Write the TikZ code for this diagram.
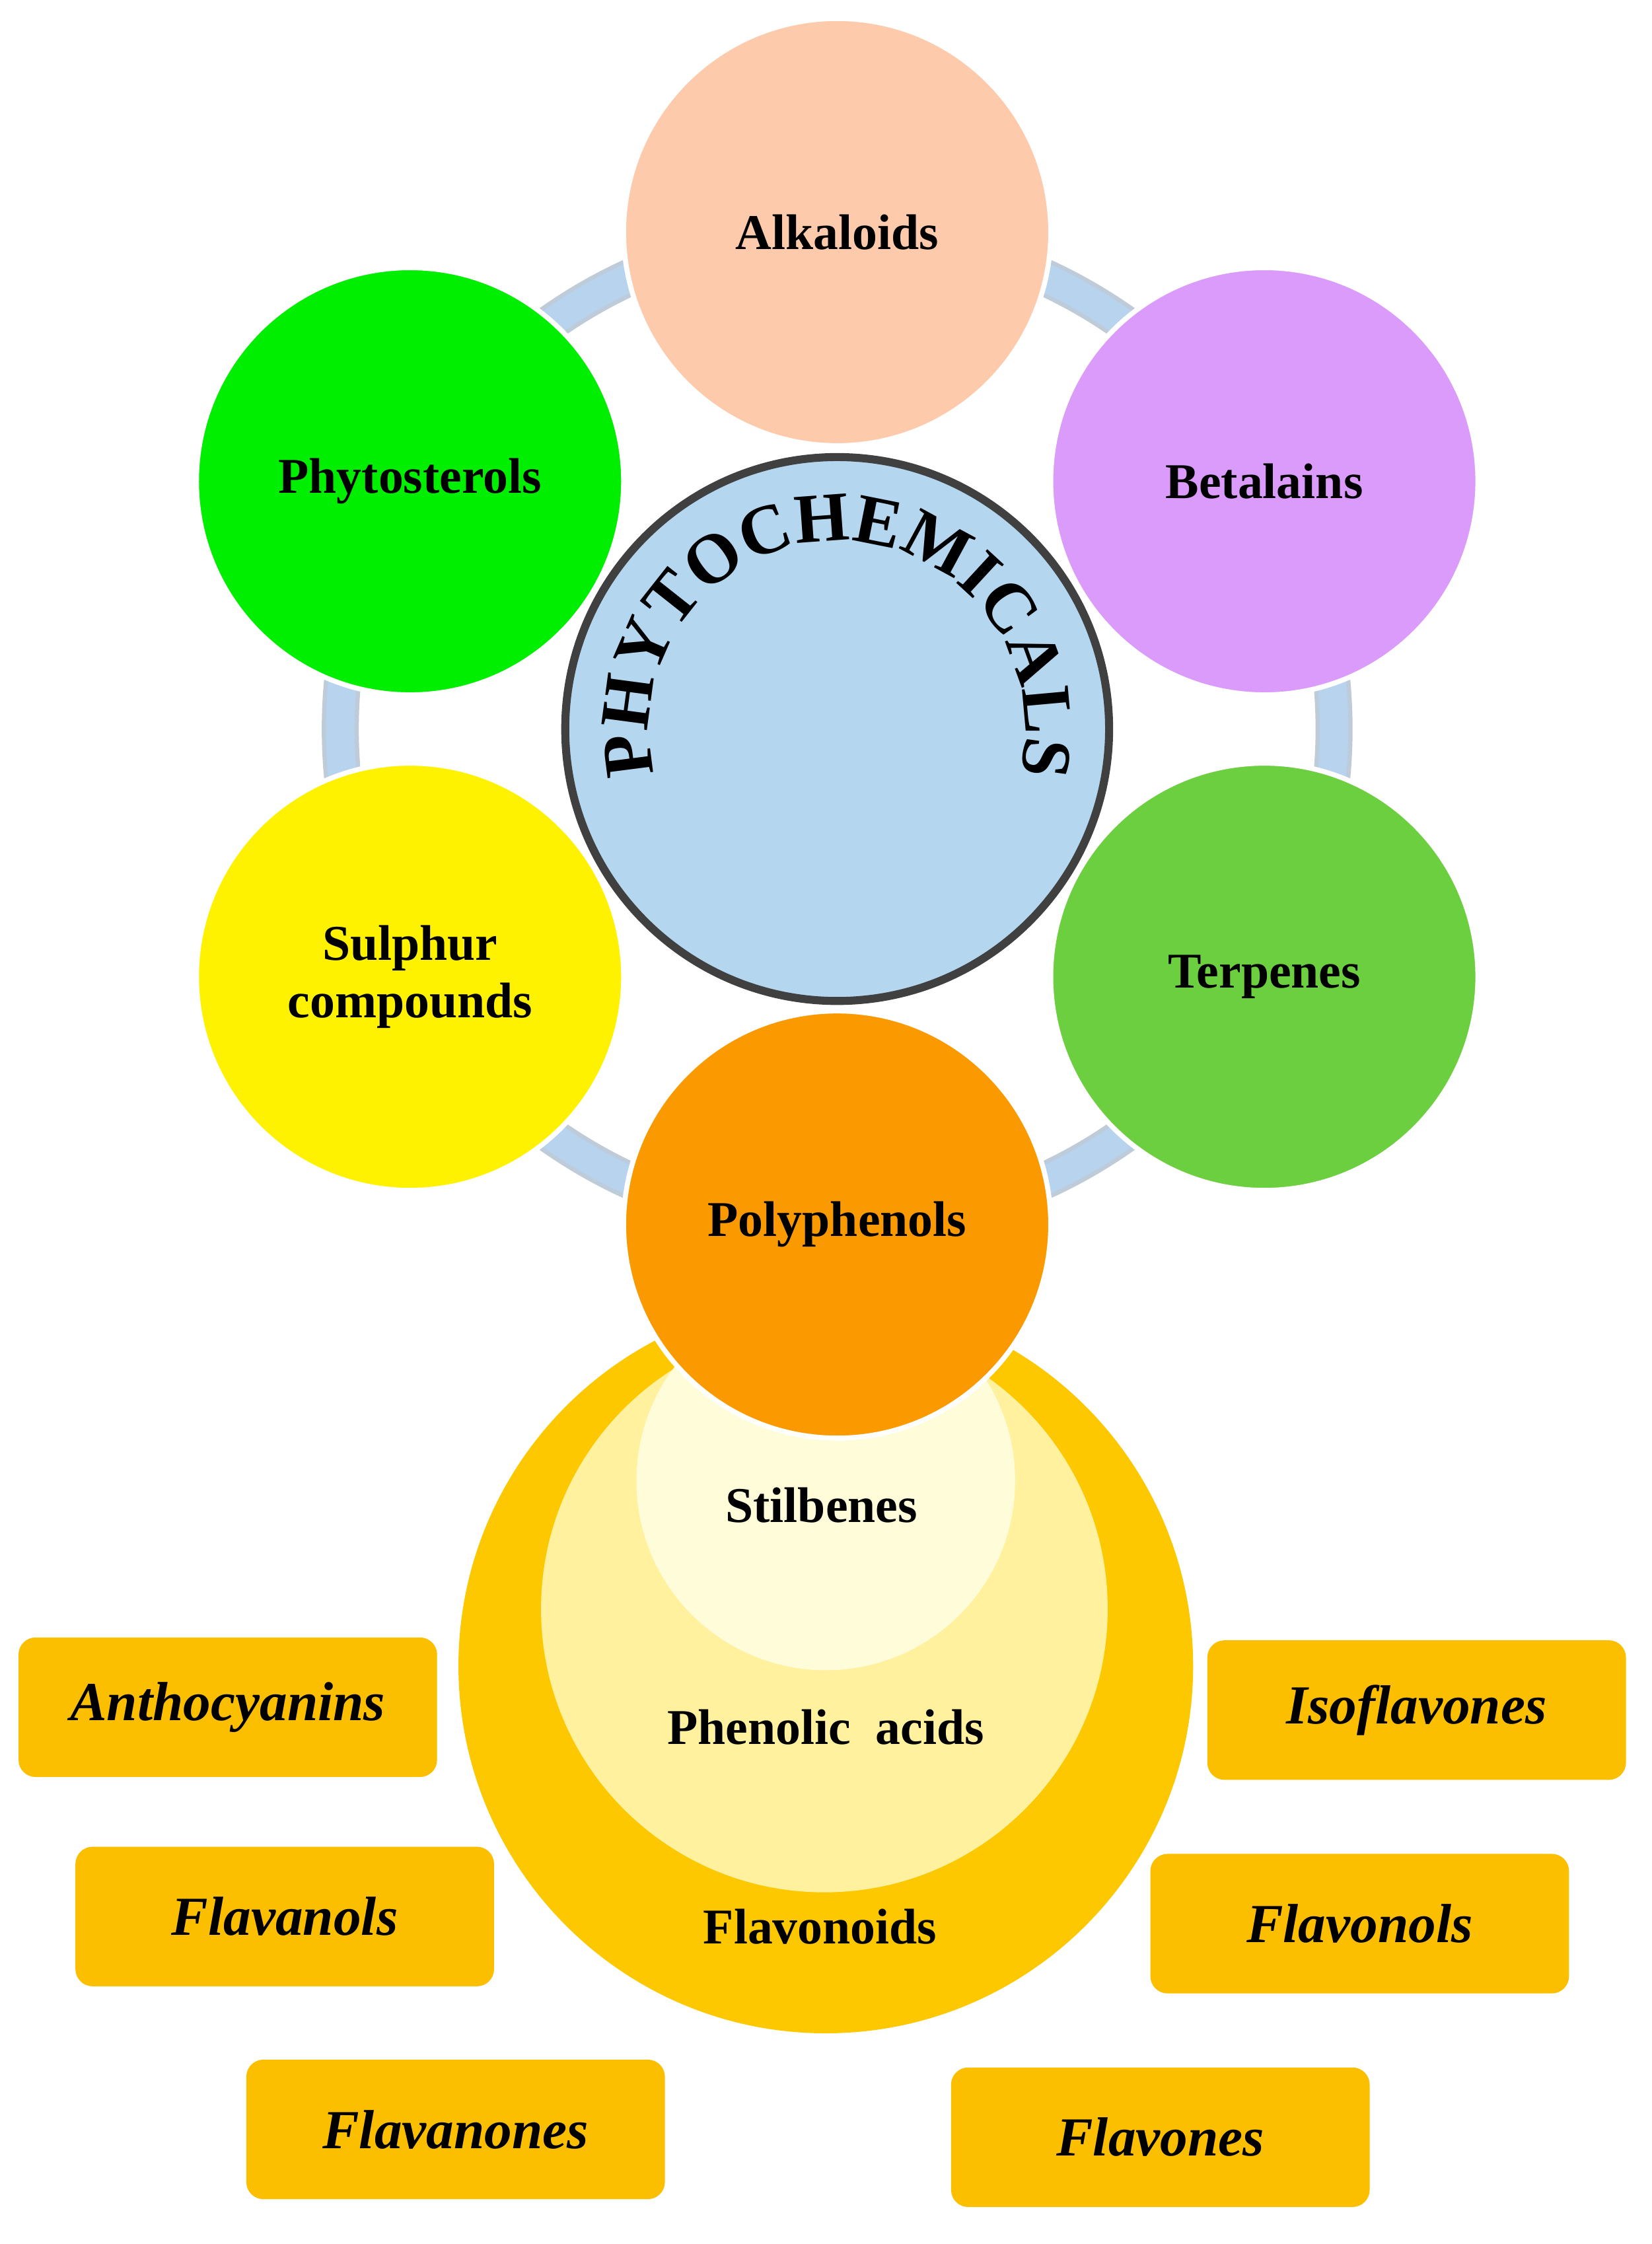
\documentclass[tikz,border=0pt]{standalone}
\usepackage{fontspec}
\setmainfont{Liberation Serif}
\usetikzlibrary{decorations.text}
\definecolor{ringb}{HTML}{B8D3EE}
\definecolor{ctr}{HTML}{B4D6EF}
\definecolor{boxc}{HTML}{FCBF00}
\definecolor{bigy}{HTML}{FDC800}
\definecolor{midy}{HTML}{FFF19E}
\definecolor{iny}{HTML}{FFFCD9}
\tikzset{
 cat/.style={circle,minimum size=3cm,inner sep=0pt,draw=white,line width=1pt,font=\fontsize{10}{11.5}\selectfont\bfseries,align=center},
 sub/.style={font=\fontsize{10}{12}\selectfont\bfseries},
 box/.style={rectangle,rounded corners=0.12cm,fill=boxc,minimum width=2.94cm,minimum height=0.98cm,font=\fontsize{11}{13}\selectfont\bfseries\itshape}
}
\begin{document}
\begin{tikzpicture}
\useasboundingbox (0,0) rectangle (11.6,-15.76);
\coordinate (c) at (5.88,-5.12);
% ring
\draw[ringb!80!black!60,line width=0.26cm] (c) circle[radius=3.49];
\draw[ringb,line width=0.2cm] (c) circle[radius=3.49];
% bottom circles
\node[circle,fill=bigy,minimum size=5.16cm,inner sep=0pt] (big) at (5.80,-11.70) {};
\node[circle,fill=midy,minimum size=3.98cm,inner sep=0pt] (mid) at (5.79,-11.30) {};
\node[circle,fill=iny,minimum size=2.66cm,inner sep=0pt] (inn) at (5.80,-10.40) {};
\node[sub] (stil) at (5.77,-10.57) {Stilbenes};
\node[sub] (phen) at (5.80,-12.13) {Phenolic\ \ acids};
\node[sub] (flav) at (5.76,-13.53) {Flavonoids};
% category circles
\node[cat,fill={rgb,255:red,253;green,203;blue,171}] (alk) at (5.88,-1.63) {Alkaloids};
\node[cat,fill={rgb,255:red,218;green,155;blue,251}] (bet) at (8.88,-3.38) {Betalains};
\node[cat,fill={rgb,255:red,108;green,207;blue,63}] (ter) at (8.88,-6.86) {Terpenes};
\node[cat,fill={rgb,255:red,251;green,154;blue,0}] (pol) at (5.88,-8.60) {Polyphenols};
\node[cat,fill=yellow] (sul) at (2.88,-6.86) {Sulphur\\compounds};
\node[cat,fill={rgb,255:red,0;green,238;blue,0}] (phy) at (2.88,-3.38) {Phytosterols};
% center
\node[circle,fill=ctr,draw=black!75,line width=1.6pt,minimum size=3.82cm,inner sep=0pt] (cen) at (c) {};
\path[decorate,decoration={text along path,text align=center,
 text={|\fontsize{14}{14}\selectfont\bfseries|PHYTOCHEMICALS}}]
 (c) ++(205:1.32) arc (205:-25:1.32);
% boxes
\node[box] (b1) at (1.60,-11.99) {Anthocyanins};
\node[box] (b2) at (9.95,-12.01) {Isoflavones};
\node[box] (b3) at (2.00,-13.46) {Flavanols};
\node[box] (b4) at (9.55,-13.51) {Flavonols};
\node[box] (b5) at (3.20,-14.955) {Flavanones};
\node[box] (b6) at (8.15,-15.01) {Flavones};
\end{tikzpicture}
\end{document}
